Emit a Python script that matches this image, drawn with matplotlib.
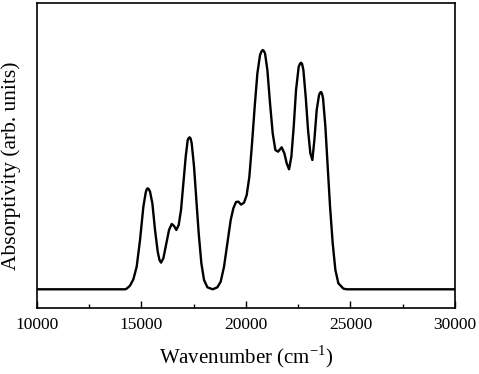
import matplotlib
matplotlib.use("Agg")
import matplotlib.pyplot as plt
from matplotlib.ticker import MultipleLocator

wavenumber = [10000, 14223, 14303, 14462, 14621, 14781, 14940, 15100, 15211, 15260, 15307,
              15360, 15418, 15530, 15657, 15785, 15870, 15944, 16056, 16183, 16327, 16454, 16566,
              16677, 16789, 16900, 17012, 17124, 17219, 17270, 17315, 17360, 17410, 17522, 17633,
              17745, 17872, 18000, 18159, 18414, 18637, 18797, 18956, 19115, 19275,
              19402, 19530, 19641, 19769, 19912, 20040, 20167, 20295, 20422, 20550,
              20677, 20750, 20805, 20860, 20916, 21028, 21155, 21283, 21410, 21538, 21713, 21841,
              21952, 22064, 22175, 22287, 22398, 22526, 22590, 22637, 22690, 22749, 22860, 22972,
              23083, 23179, 23275, 23386, 23498, 23550, 23594, 23640, 23689, 23801, 23912, 24024,
              24151, 24279, 24422, 24661, 24821, 30000]
absorptivity = [0, 0, 2, 11, 30, 68, 148, 248, 290, 300, 303,
                300, 293, 258, 178, 113, 88, 80, 93, 133, 178, 196, 190,
                178, 193, 238, 318, 398, 448, 454, 456, 452, 438, 368, 268,
                168, 78, 28, 6, 0, 6, 23, 68, 138, 208,
                243, 262, 263, 254, 260, 283, 338, 438, 548, 648,
                703, 714, 718, 715, 708, 658, 558, 468, 418, 413, 426, 408,
                378, 360, 398, 488, 598, 668, 677, 680, 676, 658, 578, 478,
                408, 388, 448, 538, 583, 590, 592, 587, 573, 488, 368, 248,
                138, 58, 18, 2, 0, 0]
x_ticks = [10000, 15000, 20000, 25000, 30000]

plt.rcParams['font.family'] = ['Liberation Serif', 'DejaVu Serif']
plt.rcParams['mathtext.fontset'] = 'custom'
plt.rcParams['mathtext.rm'] = 'Liberation Serif'
fig = plt.figure(figsize=(4.79, 3.74), dpi=100)
ax = fig.add_axes([0.0766, 0.1757, 0.8734, 0.8153])
scale = max(absorptivity)
ax.plot(wavenumber, [a / scale for a in absorptivity], color='black', lw=1.7)
ax.set_xlim(10000, 30000)
ax.set_ylim(-57 / 718, 858 / 718)
ax.set_xticks(x_ticks)
ax.xaxis.set_minor_locator(MultipleLocator(2500))
ax.tick_params(axis='x', which='major', direction='in', length=5, width=1, labelsize=12.5, pad=6)
ax.tick_params(axis='x', which='minor', direction='in', length=3, width=1)
ax.set_yticks([])
for s in ax.spines.values():
    s.set_linewidth(1.2)
ax.set_xlabel('Wavenumber (cm$^{\\mathrm{-1}}$)', fontsize=15, labelpad=8)
ax.set_ylabel('Absorptivity (arb. units)', fontsize=15.5)
ax.yaxis.set_label_coords(-0.038, 0.467)
fig.savefig('out.png', dpi=100)
